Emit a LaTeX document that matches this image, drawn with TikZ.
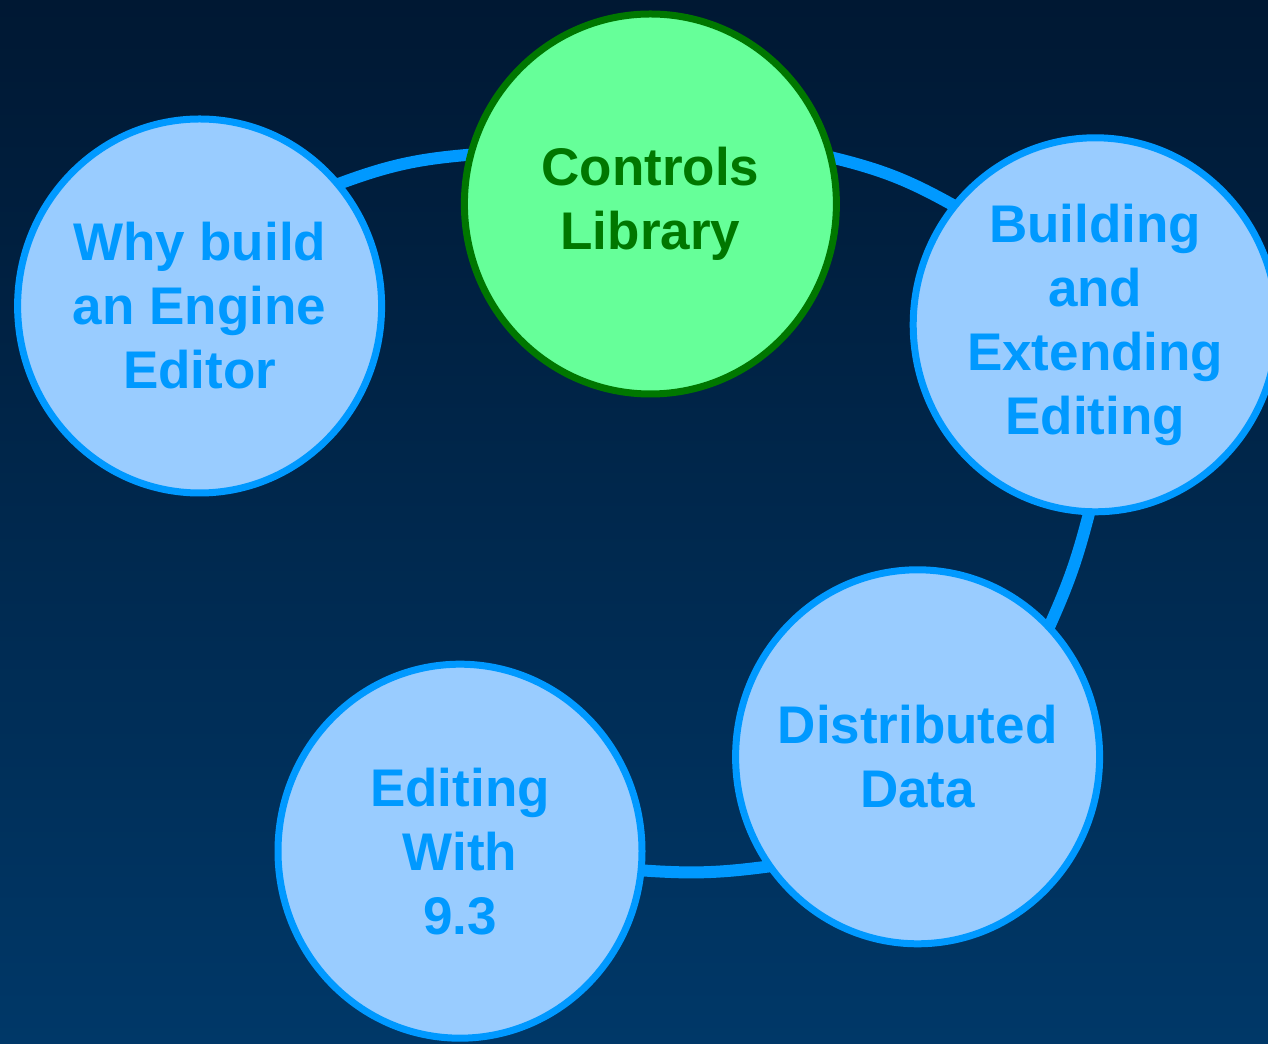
\documentclass[tikz,border=0pt]{standalone}
\usepackage{fontspec}
\setmainfont{Liberation Sans}
\usepackage{xcolor}
\usepackage{tikz}
\usetikzlibrary{shapes.geometric}
\definecolor{cftopic}{HTML}{99CCFF}
\definecolor{cfline}{HTML}{0099FF}
\definecolor{cfcurrent}{HTML}{66FF99}
\definecolor{cfcurrentdark}{HTML}{007700}
\definecolor{cfbgtop}{HTML}{001833}
\definecolor{cfbgmid}{HTML}{00305A}
\definecolor{cfbgbot}{HTML}{003868}
\pgfdeclarelayer{bg}
\pgfdeclarelayer{links}
\pgfsetlayers{bg,links,main}

\begin{document}
\begin{tikzpicture}[
    topic/.style={ellipse, draw=cfline, fill=cftopic, line width=0.175cm,
      minimum width=9.1cm, minimum height=9.35cm, inner sep=-1cm,
      text=cfline, align=center, font=\fontsize{37.7}{45.5}\selectfont\bfseries},
    current/.style={topic, draw=cfcurrentdark, fill=cfcurrent, text=cfcurrentdark,
      minimum width=9.3cm, minimum height=9.5cm},
    link/.style={draw=cfline, line width=0.3cm, shorten <=-6pt, shorten >=-6pt}]
  \useasboundingbox (0,0) rectangle (31.7,26.1);
  \begin{pgfonlayer}{bg}
    \shade[top color=cfbgtop, middle color=cfbgmid, bottom color=cfbgbot]
      (0,0) rectangle (31.7,26.1);
  \end{pgfonlayer}
  % topics
  \node[topic] (why) at (4.99,18.45) {Why build\\an Engine\\Editor};
  \node[current] (controls) at (16.26,21.0) {Controls\\Library};
  \node[topic] (building) at (27.38,17.98) {Building\\and\\Extending\\Editing};
  \node[topic] (distributed) at (22.94,7.18) {Distributed\\Data};
  \node[topic] (editing) at (11.5,4.82) {Editing\\With\\9.3};
  % links round the ring
  \begin{pgfonlayer}{links}
    \draw[link] (why.41) to[bend left=8] (controls.165);
    \draw[link] (controls.14) to[bend left=8] (building.140);
    \draw[link] (building.268) to[bend left=5] (distributed.45);
    \draw[link] (distributed.216) to[bend left=6] (editing.354);
  \end{pgfonlayer}
\end{tikzpicture}
\end{document}
